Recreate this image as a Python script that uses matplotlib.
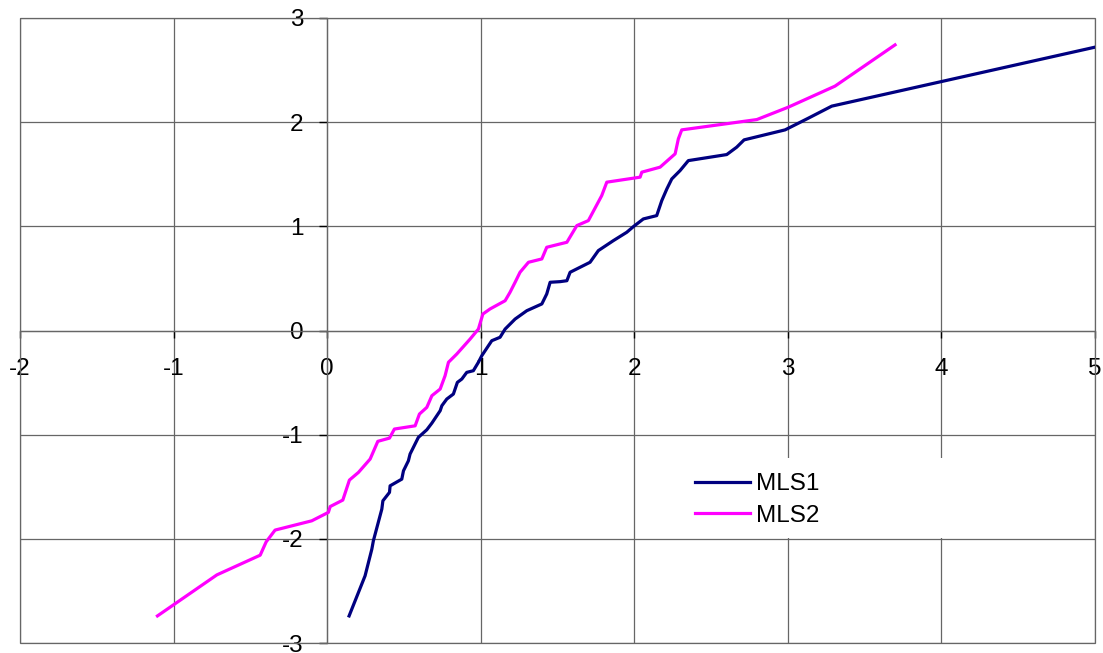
import matplotlib.pyplot as plt
from matplotlib.patches import Rectangle

plt.rcParams['font.family'] = ['Liberation Sans', 'DejaVu Sans']
plt.rcParams['axes.unicode_minus'] = False

# MLS1 곡선 좌표
mls1_x = [0.143, 0.247, 0.291, 0.301, 0.356, 0.363, 0.406, 0.410, 0.486, 0.497,
          0.529, 0.540, 0.594, 0.649, 0.682, 0.736, 0.747, 0.779, 0.822, 0.848,
          0.877, 0.909, 0.952, 0.985, 1.007, 1.072, 1.126, 1.159, 1.224, 1.300,
          1.398, 1.430, 1.452, 1.517, 1.561, 1.582, 1.712, 1.766, 1.864, 1.951,
          1.994, 2.059, 2.146, 2.179, 2.212, 2.244, 2.298, 2.352, 2.602, 2.667,
          2.715, 2.982, 3.133, 3.286, 5.000]
mls1_y = [-2.740, -2.355, -2.099, -2.019, -1.715, -1.635, -1.554, -1.491, -1.427, -1.347,
          -1.251, -1.186, -1.026, -0.953, -0.889, -0.770, -0.722, -0.658, -0.610, -0.498,
          -0.466, -0.402, -0.386, -0.305, -0.242, -0.098, -0.065, 0.014, 0.110, 0.190,
          0.255, 0.351, 0.463, 0.469, 0.478, 0.559, 0.655, 0.767, 0.863, 0.943,
          0.997, 1.071, 1.103, 1.247, 1.359, 1.455, 1.535, 1.631, 1.689, 1.760,
          1.830, 1.926, 2.038, 2.154, 2.720]

# MLS2 곡선 좌표
mls2_x = [-1.105, -0.718, -0.436, -0.397, -0.339, -0.100, 0.008, 0.020, 0.102, 0.145,
          0.204, 0.280, 0.330, 0.406, 0.438, 0.573, 0.601, 0.649, 0.682, 0.736,
          0.768, 0.790, 0.844, 0.931, 0.985, 1.014, 1.061, 1.159, 1.191, 1.224,
          1.256, 1.311, 1.398, 1.430, 1.517, 1.561, 1.626, 1.701, 1.788, 1.821,
          2.038, 2.049, 2.168, 2.266, 2.287, 2.309, 2.798, 3.003, 3.307, 3.698]
mls2_y = [-2.740, -2.346, -2.157, -2.029, -1.916, -1.827, -1.746, -1.690, -1.628, -1.436,
          -1.362, -1.234, -1.064, -1.033, -0.946, -0.915, -0.802, -0.738, -0.626, -0.562,
          -0.434, -0.305, -0.226, -0.082, 0.014, 0.158, 0.207, 0.286, 0.367, 0.463,
          0.559, 0.655, 0.687, 0.799, 0.831, 0.847, 1.007, 1.055, 1.295, 1.424,
          1.472, 1.520, 1.568, 1.696, 1.840, 1.926, 2.025, 2.144, 2.346, 2.742]

x_ticks = [-2, -1, 0, 1, 2, 3, 4, 5]
y_ticks = [-3, -2, -1, 0, 1, 2, 3]

grid_color = '#666666'

fig = plt.figure(figsize=(11.03, 6.53), dpi=100)
ax = fig.add_axes([20 / 1103, 10 / 653, 1075 / 1103, 625 / 653])
ax.set_xlim(-2, 5)
ax.set_ylim(-3, 3)
ax.set_xticks(x_ticks)
ax.set_yticks(y_ticks)
ax.set_axisbelow(True)
ax.grid(True, color=grid_color, linewidth=0.9)

# 축은 원점을 지나도록
for side in ['left', 'bottom']:
    ax.spines[side].set_position(('data', 0))
    ax.spines[side].set_color(grid_color)
    ax.spines[side].set_linewidth(0.9)
for side in ['top', 'right']:
    ax.spines[side].set_visible(False)
ax.add_patch(Rectangle((0, 0), 1, 1, transform=ax.transAxes, fill=False,
                       edgecolor=grid_color, linewidth=0.9, clip_on=False))

ax.tick_params(axis='x', direction='out', length=5, width=1, color='black',
               labelsize=17.5, pad=15)
ax.tick_params(axis='y', direction='out', length=6, width=1, color='black',
               labelsize=17.5, pad=11)

ax.plot(mls1_x, mls1_y, color='#000080', linewidth=2.3, label='MLS1', zorder=3)
ax.plot(mls2_x, mls2_y, color='#FF00FF', linewidth=2.3, label='MLS2', zorder=3)

# 범례 배경
ax.add_patch(Rectangle(((660 - 20) / 1075, (643 - 538) / 625), 340 / 1075, 80 / 625,
                       transform=ax.transAxes, facecolor='white', edgecolor='none',
                       zorder=1))
ax.legend(loc='center left', bbox_to_anchor=((695 - 20) / 1075, (643 - 500) / 625),
          frameon=False, fontsize=17.5, borderpad=0, borderaxespad=0,
          handlelength=2.26, handletextpad=0.25, labelspacing=0.4)

plt.savefig('out.png', dpi=100)
